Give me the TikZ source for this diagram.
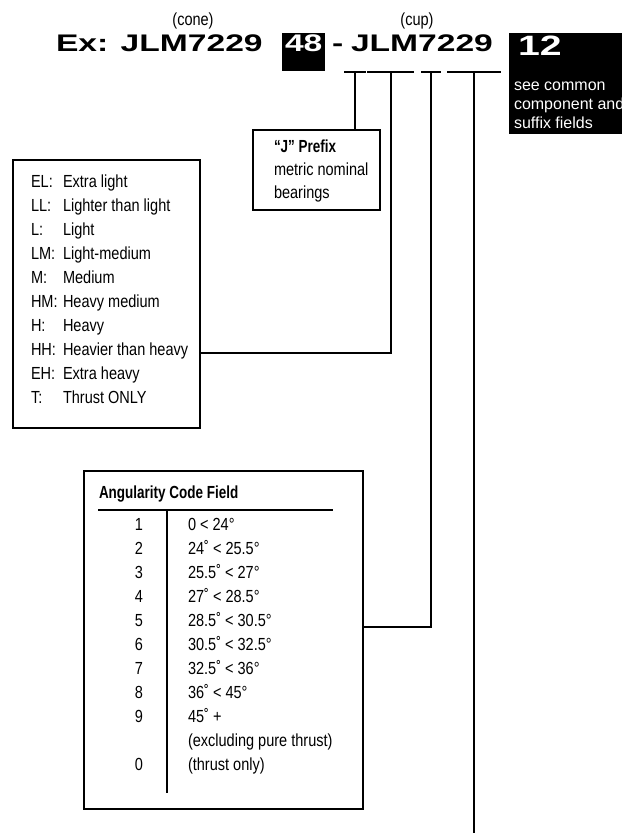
\documentclass[tikz,border=0pt]{standalone}
\usepackage{fontspec}
\setmainfont{Liberation Sans}[FakeStretch=0.83]
\newfontfamily\headfont{Liberation Sans}[FakeStretch=0.77]
\newfontfamily\widefont{Liberation Sans}[FakeStretch=1.4]
\newfontfamily\plainfont{Liberation Sans}

\begin{document}
\begin{tikzpicture}[x=1pt, y=-1pt, line width=2pt,
  every node/.style={font=\fontsize{17.5}{23}\selectfont, inner sep=0pt},
  heading/.style={font=\headfont\bfseries\fontsize{17.5}{23}\selectfont},
  partno/.style={font=\widefont\bfseries\fontsize{24}{24}\selectfont, anchor=base west},
  box/.style={draw, line width=2.4pt, anchor=north west},
  row/.style={anchor=base west},
  tick/.style={minimum width=#1, minimum height=0pt}]
  \useasboundingbox (0,0) rectangle (621,835);

  % part number
  \node[anchor=base] (cone) at (193,25) {(cone)};
  \node[anchor=base] (cup) at (417,25) {(cup)};
  \node[partno] (conecode) at (55,51) {Ex: JLM7229};
  \node[partno, fill=black, text=white, anchor=north west, inner xsep=3pt,
        text height=18pt, text depth=20pt] (n48) at (281,32) {48};
  \node[partno] (dash) at (331,51) {-};
  \node[partno] (cupcode) at (350,51) {JLM7229};
  \node[fill=black, anchor=north west, minimum width=130, minimum height=101] (n12) at (508,32) {};
  \node[partno, text=white, font=\widefont\bfseries\fontsize{28}{28}\selectfont] (t12) at (517,55) {12};
  \foreach \line [count=\i] in {see common, component and, suffix fields}
    \node[row, text=white, font=\plainfont\fontsize{16}{19}\selectfont] (see\i) at (513,71+19*\i) {\line};

  % underscores under the code
  \node[tick=20] (u1) at (355,72) {};
  \node[tick=45] (u2) at (390.5,72) {};
  \node[tick=18] (u3) at (431,72) {};
  \node[tick=52] (u4) at (474,72) {};
  \foreach \u in {u1,u2,u3,u4}
    \draw (\u.west) -- (\u.east);

  % "J" prefix
  \node[box, minimum width=127, minimum height=80] (jbox) at (252,129) {};
  \node[row, heading] (j1) at (273,152) {“J” Prefix};
  \node[row] (j2) at (273,175) {metric nominal};
  \node[row] (j3) at (273,198) {bearings};

  % series
  \node[box, minimum width=187, minimum height=268] (series) at (12,159) {};
  \foreach \abbr/\desc [count=\i] in {EL:/Extra light, LL:/Lighter than light, L:/Light,
      LM:/Light-medium, M:/Medium, HM:/Heavy medium, H:/Heavy,
      HH:/Heavier than heavy, EH:/Extra heavy, T:/Thrust ONLY} {
    \node[row] (sa\i) at (30,163+24*\i) {\abbr};
    \node[row] (sd\i) at (62,163+24*\i) {\desc};
  }

  % angularity
  \node[box, minimum width=279, minimum height=338] (angle) at (83,470) {};
  \node[row, heading] (atitle) at (98,498) {Angularity Code Field};
  \draw ([yshift=-12pt]atitle.base west) -- ++(235,0);
  \draw (167,510) -- (167,793);
  \foreach \num/\range [count=\i] in {1/{0 < 24°}, 2/{24˚ < 25.5°}, 3/{25.5˚ < 27°},
      4/{27˚ < 28.5°}, 5/{28.5˚ < 30.5°}, 6/{30.5˚ < 32.5°}, 7/{32.5˚ < 36°},
      8/{36˚ < 45°}, 9/{45˚ +}, /{(excluding pure thrust)}, 0/{(thrust only)}} {
    \node[anchor=base] (an\i) at (139,506+24*\i) {\num};
    \node[row] (ar\i) at (187,506+24*\i) {\range};
  }

  % connectors
  \coordinate (foot) at (476,833);
  \draw (u1.center) -- (u1 |- jbox.north);
  \draw (u2.center) |- ([yshift=-59pt]series.east);
  \draw (u3.center) |- ([yshift=13pt]angle.east);
  \draw (u4.center) -- (u4 |- foot);
\end{tikzpicture}
\end{document}
